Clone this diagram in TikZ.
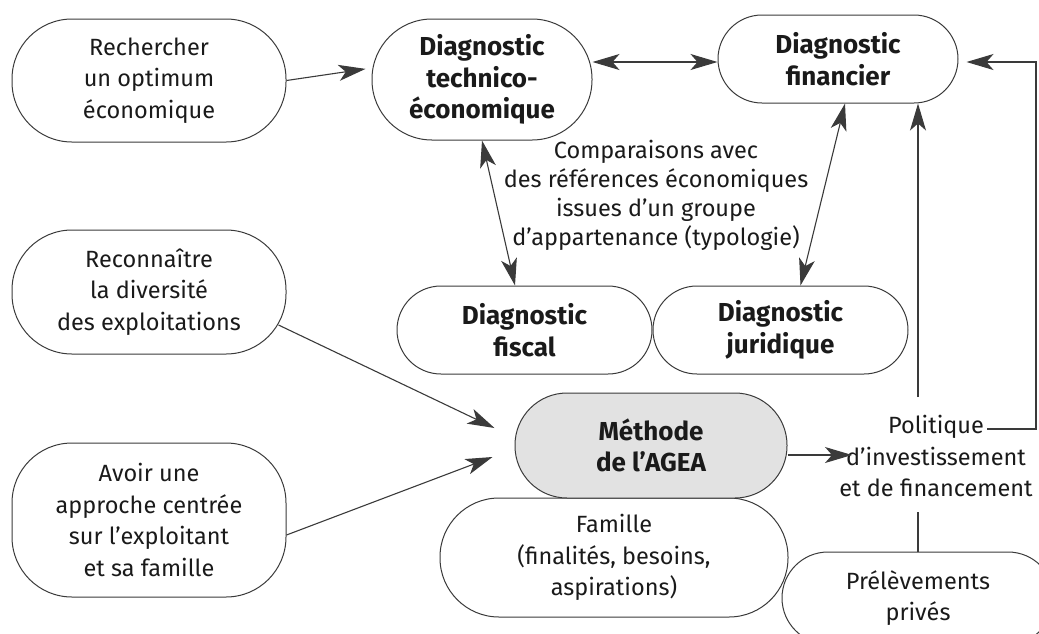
\documentclass[tikz,border=0pt]{standalone}
\usepackage{fontspec}
\setmainfont{Fira Sans}
\usetikzlibrary{arrows.meta,calc}
\definecolor{linegray}{HTML}{3A3A3A}
\definecolor{methgray}{HTML}{E2E2E2}
\definecolor{inkcol}{HTML}{1A1A1A}
\begin{document}
\begin{tikzpicture}[x=1pt,y=-1pt,
  txt/.style={text=inkcol, align=center, inner sep=0pt, font=\fontsize{23.5}{31.7}\selectfont},
  bold/.style={font=\fontsize{26}{31.7}\selectfont\bfseries},
  pill/.style={txt, draw=linegray, line width=1pt, rounded corners=#1},
  pill/.default=60pt,
  sz/.style 2 args={minimum width=#1pt, minimum height=#2pt},
  conn/.style={draw=linegray, line width=1.1pt},
  tip/.style={-{Stealth[length=27pt,width=16pt,inset=7pt]}},
  dtip/.style={{Stealth[length=27pt,width=16pt,inset=7pt]}-{Stealth[length=27pt,width=16pt,inset=7pt]}}
]
\useasboundingbox (0,0) rectangle (1039,633);
\clip (0,0) rectangle (1039,633);

% goals on the left
\node[pill, sz={274}{123}] (rech) at (149,80.5) {Rechercher\\un optimum\\économique};
\node[pill, sz={274}{124}] (reco) at (149,292) {Reconnaître\\la diversité\\des exploitations};
\node[pill, sz={274}{154}] (avoir) at (149,520) {Avoir une\\approche centrée\\sur l’exploitant\\et sa famille};

% diagnostics
\node[pill, sz={220}{121}, bold] (tech) at (482,79.5) {Diagnostic\\technico-\\économique};
\node[pill=44pt, sz={240}{88}, bold] (fin) at (838,59) {Diagnostic\\financier};
\node[pill=44pt, sz={255}{88}, bold] (fisc) at (524.5,330) {Diagnostic\\fiscal};
\node[pill=44pt, sz={255}{88}, bold] (jur) at (780.5,330) {Diagnostic\\juridique};

% method, family and private drawings
\node[pill=59pt, sz={348}{119}] (fam) at (614,557.5) {Famille\\(finalités, besoins,\\aspirations)};
\node[pill=52pt, sz={272}{105}, bold, fill=methgray] (meth) at (651,445.5) {Méthode\\de l’AGEA};
\node[pill=46pt, sz={272}{92}] (prel) at (918,598) {Prélèvements\\privés};

% free labels
\node[txt] (pol) at (936,456) {Politique\\d’investissement\\et de financement};
\node[txt, font=\fontsize{23.5}{29}\selectfont] (comp) at (656,195.5)
  {Comparaisons avec\\des références économiques\\issues d’un groupe\\d’appartenance (typologie)};

% connector ends around the policy label
\coordinate (polTop) at (918,397);
\coordinate (polBot) at (918,512);
\coordinate (polEnd) at (987,429);
\coordinate (polIn) at (852,455);
\coordinate (loopR) at (1036,62);

% connectors
\draw[conn, tip, shorten >=6pt] (rech.east) -- ([yshift=11.5pt]tech.west);
\draw[conn, dtip] ([yshift=17.5pt]tech.east) -- ([yshift=-3pt]fin.west);
\draw[conn, dtip] (tech.south) -- ([xshift=-9.5pt]fisc.north);
\draw[conn, dtip] ([xshift=7pt]fin.south) -- ([xshift=20pt]jur.north);
\draw[conn, tip] ([xshift=-8pt,yshift=-33pt]reco.east) -- ([xshift=-20pt,yshift=17.5pt]meth.west);
\draw[conn, tip] ([yshift=-15pt]avoir.east) -- ([xshift=-22pt,yshift=-11.5pt]meth.west);
\draw[conn, tip] ([yshift=-9.5pt]meth.east) -- (polIn);
\draw[conn, tip] (polTop) -- ([xshift=80pt]fin.south);
\draw[conn] (polBot) -- (prel.north);
\draw[conn, tip, shorten >=8pt] (polEnd) -| (loopR) -- ([yshift=-3pt]fin.east);
\end{tikzpicture}
\end{document}
